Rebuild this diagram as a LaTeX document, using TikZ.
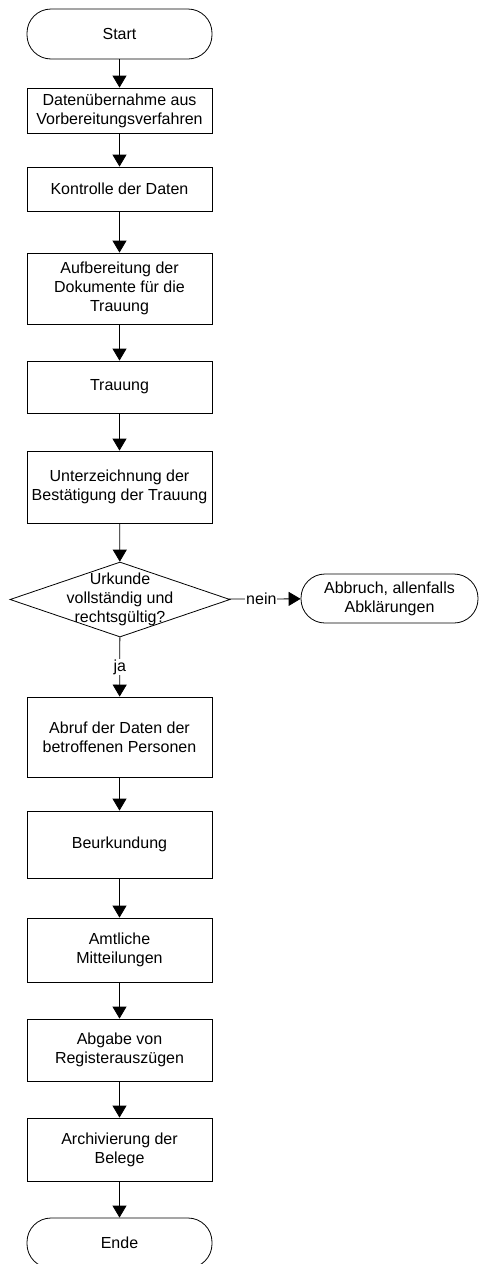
\documentclass[tikz,border=0pt]{standalone}
\usepackage{fontspec}
\setmainfont{Liberation Sans}
\usetikzlibrary{arrows.meta,shapes.geometric}
\begin{document}
\begin{tikzpicture}[x=1pt,y=-1pt,
  txt/.style={font=\fontsize{16}{19}\selectfont, align=center},
  base/.style={txt, draw, line width=0.8pt, inner sep=0pt},
  proc/.style={base, rectangle, minimum width=185pt},
  term/.style={base, rectangle, rounded corners=24pt, minimum height=50pt},
  dec/.style={draw, line width=0.8pt, diamond, minimum width=220pt, minimum height=75pt, inner sep=0pt},
  lbl/.style={txt, fill=white, inner sep=1pt},
  conn/.style={line width=0.8pt, -{Triangle[width=14pt,length=12pt]}}]
\useasboundingbox (0,0) rectangle (479,1264);

\node[term, minimum width=185pt] (start) at (119.5,34) {Start};
\node[proc, minimum height=45pt] (b1) at (119.5,110.5) {Datenübernahme aus\\Vorbereitungsverfahren};
\node[proc, minimum height=44pt] (b2) at (119.5,189) {Kontrolle der Daten};
\node[proc, minimum height=71pt] (b3) at (119.5,288.5) {Aufbereitung der\\Dokumente für die\\Trauung};
\node[proc, minimum height=52pt] (b4) at (119.5,387) {Trauung};
\node[proc, minimum height=72pt] (b5) at (119.5,487) {Unterzeichnung der\\Bestätigung der Trauung};
\node[dec] (d) at (120,599.5) {};
\node[txt] (dt) at (120,599.5) {Urkunde\\vollständig und\\rechtsgültig?};
\node[term, minimum width=177pt, minimum height=49pt] (abb) at (389.5,598.5) {Abbruch, allenfalls\\Abklärungen};
\node[proc, minimum height=80pt] (b6) at (119.5,737) {Abruf der Daten der\\betroffenen Personen};
\node[proc, minimum height=67pt] (b7) at (119.5,844.5) {Beurkundung};
\node[proc, minimum height=64pt] (b8) at (119.5,950) {Amtliche\\Mitteilungen};
\node[proc, minimum height=62pt] (b9) at (119.5,1050) {Abgabe von\\Registerauszügen};
\node[proc, minimum height=63pt] (b10) at (119.5,1149.5) {Archivierung der\\Belege};
\node[term, minimum width=185pt] (ende) at (119.5,1243) {Ende};

\draw[conn] (start) -- (b1);
\draw[conn] (b1) -- (b2);
\draw[conn] (b2) -- (b3);
\draw[conn] (b3) -- (b4);
\draw[conn] (b4) -- (b5);
\draw[conn] (b5) -- (d);
\draw[conn] (d) -- node[lbl, pos=0.5] {ja} (b6);
\draw[conn] (d) -- node[lbl, pos=0.45] {nein} (abb);
\draw[conn] (b6) -- (b7);
\draw[conn] (b7) -- (b8);
\draw[conn] (b8) -- (b9);
\draw[conn] (b9) -- (b10);
\draw[conn] (b10) -- (ende);
\end{tikzpicture}
\end{document}
